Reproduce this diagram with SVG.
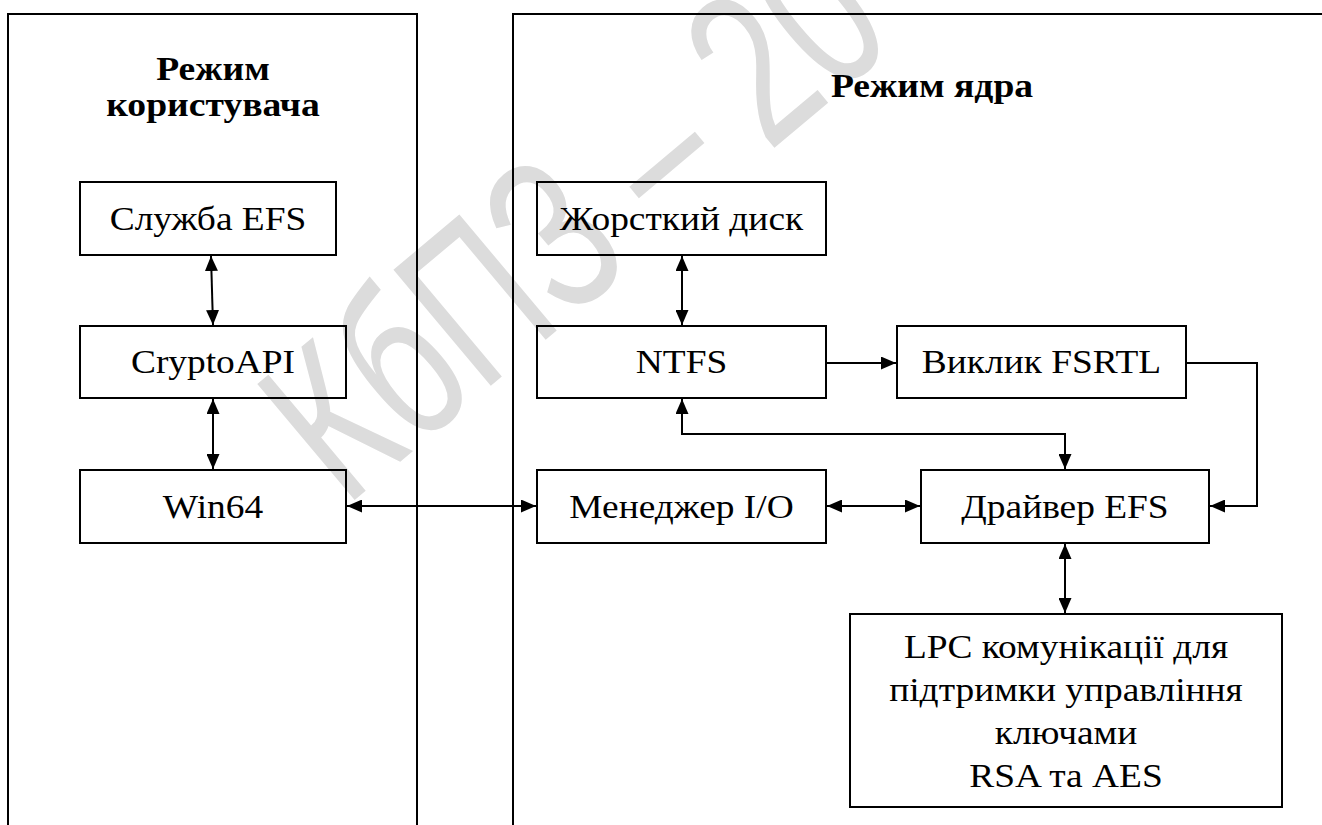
<svg xmlns="http://www.w3.org/2000/svg" width="1322" height="825" viewBox="0 0 1322 825">
  <style>
    .panel { fill: none; stroke: #000; stroke-width: 2; }
    .box { fill: none; stroke: #000; stroke-width: 2; }
    .t { font-family: "Liberation Serif", "Times New Roman", serif; font-size: 34px; text-anchor: middle; fill: #000; }
    .title { font-family: "Liberation Serif", "Times New Roman", serif; font-size: 33px; font-weight: bold; text-anchor: middle; fill: #000; }
    .wm { font-family: "Liberation Sans", Arial, sans-serif; font-size: 220px; fill: #dcdcdc; }
    .c { fill: none; stroke: #000; stroke-width: 2; }
  </style>
  <defs>
    <marker id="ah" viewBox="0 0 15 13" refX="15" refY="6.5" markerWidth="15" markerHeight="13" markerUnits="userSpaceOnUse" orient="auto-start-reverse">
      <path d="M0,0 L15,6.5 L0,13 z" fill="#000"/>
    </marker>
  </defs>
  <rect width="1322" height="825" fill="#fff"/>

  <g id="watermark">
    <text class="wm" transform="translate(345 508) rotate(-40) scale(0.7 1)">КбПЗ – 20</text>
  </g>

  <g id="panel-user">
    <path class="panel" d="M8,826 V14 H417 V826"/>
    <text class="title" transform="translate(213 80) scale(1.14 1)">Режим</text>
    <text class="title" transform="translate(213 116) scale(1.14 1)">користувача</text>
  </g>
  <g id="panel-kernel">
    <path class="panel" d="M513,826 V14 H1323"/>
    <text class="title" transform="translate(932 97) scale(1.14 1)">Режим ядра</text>
  </g>

  <g id="efs-service">
    <rect class="box" x="80" y="182" width="256" height="73"/>
    <text class="t" transform="translate(208 230) scale(1.1 1)">Служба EFS</text>
  </g>
  <g id="cryptoapi">
    <rect class="box" x="80" y="326" width="266" height="72"/>
    <text class="t" transform="translate(213 373) scale(1.1 1)">CryptoAPI</text>
  </g>
  <g id="win64">
    <rect class="box" x="80" y="470" width="266" height="73"/>
    <text class="t" transform="translate(213 518) scale(1.1 1)">Win64</text>
  </g>
  <g id="hard-disk">
    <rect class="box" x="537" y="182" width="289" height="73"/>
    <text class="t" transform="translate(681.5 230) scale(1.1 1)">Жорсткий диск</text>
  </g>
  <g id="ntfs">
    <rect class="box" x="537" y="326" width="289" height="72"/>
    <text class="t" transform="translate(681.5 373) scale(1.1 1)">NTFS</text>
  </g>
  <g id="fsrtl">
    <rect class="box" x="897" y="326" width="289" height="72"/>
    <text class="t" transform="translate(1041.5 373) scale(1.1 1)">Виклик FSRTL</text>
  </g>
  <g id="io-manager">
    <rect class="box" x="537" y="470" width="289" height="73"/>
    <text class="t" transform="translate(681.5 518) scale(1.1 1)">Менеджер I/O</text>
  </g>
  <g id="efs-driver">
    <rect class="box" x="921" y="470" width="288" height="73"/>
    <text class="t" transform="translate(1065 518) scale(1.1 1)">Драйвер EFS</text>
  </g>
  <g id="lpc">
    <rect class="box" x="850" y="614" width="432" height="193"/>
    <text class="t" transform="translate(1066 658) scale(1.1 1)">LPC комунікації для</text>
    <text class="t" transform="translate(1066 701) scale(1.1 1)">підтримки управління</text>
    <text class="t" transform="translate(1066 744) scale(1.1 1)">ключами</text>
    <text class="t" transform="translate(1066 787) scale(1.1 1)">RSA та AES</text>
  </g>

  <g id="connectors">
    <line class="c" x1="211" y1="256" x2="213" y2="325" marker-start="url(#ah)" marker-end="url(#ah)"/>
    <line class="c" x1="213" y1="399" x2="213" y2="469" marker-start="url(#ah)" marker-end="url(#ah)"/>
    <line class="c" x1="347" y1="506" x2="536" y2="506" marker-start="url(#ah)" marker-end="url(#ah)"/>
    <line class="c" x1="682" y1="256" x2="682" y2="325" marker-start="url(#ah)" marker-end="url(#ah)"/>
    <line class="c" x1="827" y1="363" x2="896" y2="363" marker-end="url(#ah)"/>
    <path class="c" d="M1187,363 H1257 V506 H1210" marker-end="url(#ah)"/>
    <path class="c" d="M682,399 V434 H1065 V469" marker-start="url(#ah)" marker-end="url(#ah)"/>
    <line class="c" x1="827" y1="506" x2="920" y2="506" marker-start="url(#ah)" marker-end="url(#ah)"/>
    <line class="c" x1="1065" y1="544" x2="1065" y2="613" marker-start="url(#ah)" marker-end="url(#ah)"/>
  </g>
</svg>
